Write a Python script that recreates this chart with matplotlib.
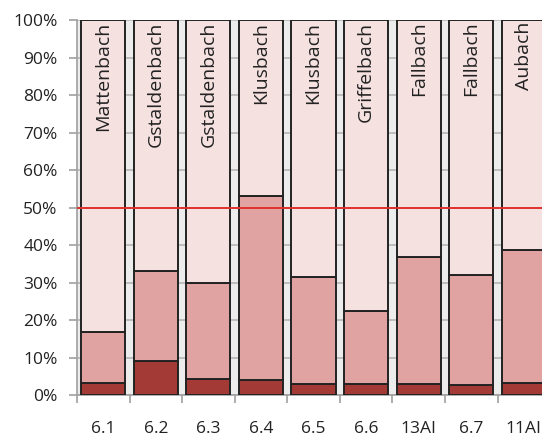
import matplotlib
matplotlib.use('Agg')
import matplotlib.pyplot as plt
import numpy as np

plt.rcParams['font.family'] = ['Open Sans', 'DejaVu Sans']

categories = ['6.1', '6.2', '6.3', '6.4', '6.5', '6.6', '13AI', '6.7', '11AI']
names = ['Mattenbach', 'Gstaldenbach', 'Gstaldenbach', 'Klusbach', 'Klusbach',
         'Griffelbach', 'Fallbach', 'Fallbach', 'Aubach']
# percent values of the lower two segments; the top one fills up to 100%
dark = [3.2, 9.2, 4.4, 3.9, 3.0, 2.9, 2.9, 2.7, 3.1]
middle_top = [16.9, 33.2, 29.8, 53.1, 31.6, 22.4, 36.7, 31.9, 38.6]

dark = np.array(dark)
mid = np.array(middle_top) - dark
light = 100 - np.array(middle_top)

fig = plt.figure(figsize=(5.42, 4.37), dpi=100)
ax = fig.add_axes([0.142, 0.096, 0.873, 0.858])
ax.set_facecolor('#ececec')

x = np.arange(len(categories))
w = 0.84
kw = dict(width=w, edgecolor='#222222', linewidth=1.4, zorder=3)
ax.bar(x, dark, color='#a33a35', **kw)
ax.bar(x, mid, bottom=dark, color='#e0a3a1', **kw)
ax.bar(x, light, bottom=dark + mid, color='#f6e1e1', **kw)

for xi, name in zip(x, names):
    ax.text(xi, 99.6, name, rotation=90, ha='center', va='top',
            fontsize=14, color='#222222', zorder=5)

ax.axhline(50, color='#e0302c', linewidth=1.4, zorder=4)

ax.set_xlim(-0.5, len(categories) - 0.5)
ax.set_ylim(0, 100)
ax.set_yticks(np.arange(0, 101, 10))
ax.set_yticklabels([f'{v}%' for v in range(0, 101, 10)], fontsize=12.5)
ax.yaxis.grid(True, color='#b5b5b5', linewidth=1.2, zorder=0)
ax.set_axisbelow(True)

ax.set_xticks(x)
ax.set_xticklabels(categories, fontsize=12.5)
ax.set_xticks(np.arange(-0.5, len(categories)), minor=True)
ax.tick_params(axis='x', which='major', length=0, pad=19, colors='#222222')
ax.tick_params(axis='x', which='minor', length=6, color='#a0a0a0', width=1.2)
ax.tick_params(axis='y', length=6, width=1.2, colors='#222222', pad=8)
ax.tick_params(axis='y', which='both', color='#a0a0a0')

for s in ['top', 'right']:
    ax.spines[s].set_visible(False)
for s in ['left', 'bottom']:
    ax.spines[s].set_color('#a0a0a0')
    ax.spines[s].set_linewidth(1.2)

fig.savefig('out.png', dpi=100, facecolor='white')
